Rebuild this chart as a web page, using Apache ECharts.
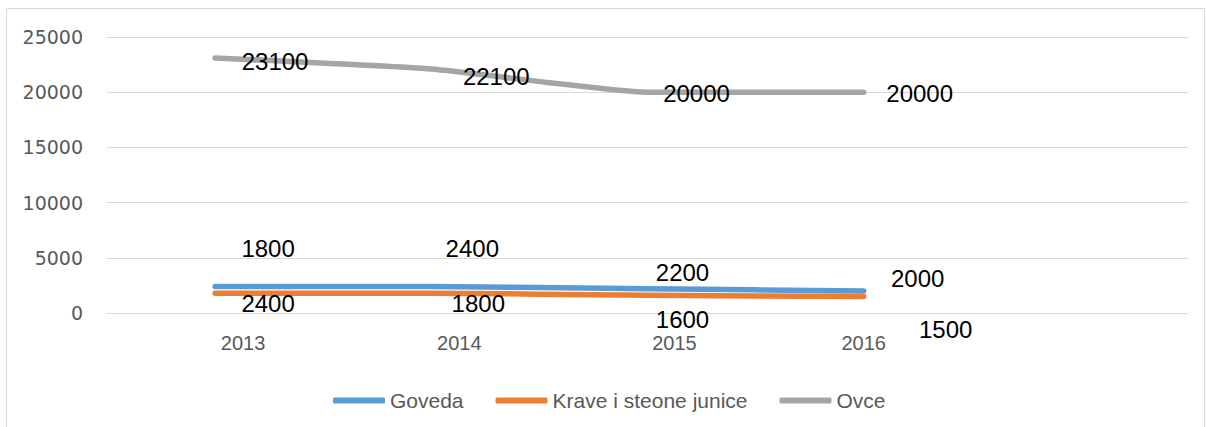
<!DOCTYPE html>
<html>
<head>
<meta charset="utf-8">
<script src="https://cdn.jsdelivr.net/npm/echarts@6/dist/echarts.min.js"></script>
<style>
  html, body { margin: 0; padding: 0; background: #ffffff; }
  #chart { width: 1206px; height: 427px; }
</style>
</head>
<body>
<div id="chart"></div>
<script>
var years = ['2013', '2014', '2015', '2016', ''];
var goveda = [2400, 2400, 2200, 2000];
var krave = [1800, 1800, 1600, 1500];
var ovce = [23100, 22100, 20000, 20000];

// label offsets (px) from each point, as placed in the original
var govedaLabelOffset = [[53, 17], [41, -38], [35, -16], [54, -12]];
var kraveLabelOffset = [[53, -45], [47, 10], [35, 24], [82, 33]];
var ovceLabelOffset = [[60, 4], [65, 7], [49, 1], [56, 1]];
// the year labels sit a little right of their points in the original
var yearLabelShift = [56, 56, 54, 0, 0];

var ink = '#000000';
var muted = '#595959';
var rule = '#D9D9D9';

function withLabels(values, offsets) {
  return values.map(function(v, i) {
    return { value: v, label: { offset: offsets[i] } };
  });
}

function lineSeries(name, values, offsets, color) {
  return {
    name: name,
    type: 'line',
    data: withLabels(values, offsets),
    smooth: 0.15,
    symbol: 'circle',
    symbolSize: 0,
    showSymbol: true,
    lineStyle: { color: color, width: 5.5, cap: 'round', join: 'round' },
    itemStyle: { color: color },
    label: {
      show: true,
      position: 'inside',
      color: ink,
      fontFamily: 'Liberation Sans',
      fontSize: 24
    },
    emphasis: { disabled: true }
  };
}

var chart = echarts.init(document.getElementById('chart'), null, { renderer: 'svg' });
chart.setOption({
  animation: false,
  backgroundColor: '#ffffff',
  graphic: [{
    type: 'rect',
    shape: { x: 6.5, y: 8.5, width: 1198, height: 440 },
    style: { fill: 'none', stroke: rule, lineWidth: 1 },
    silent: true,
    z: -1
  }],
  legend: {
    left: 328,
    top: 385,
    itemWidth: 52,
    itemHeight: 6,
    itemGap: 32,
    icon: 'roundRect',
    textStyle: { color: muted, fontFamily: 'Liberation Sans', fontSize: 21 },
    data: ['Goveda', 'Krave i steone junice', 'Ovce']
  },
  grid: {
    left: 107,
    right: 18,
    top: 37,
    bottom: 114,
    containLabel: false
  },
  xAxis: {
    type: 'category',
    data: years.map(function(y, i) {
      return { value: y, textStyle: { padding: [0, 0, 0, yearLabelShift[i]] } };
    }),
    boundaryGap: true,
    axisLine: { show: true, lineStyle: { color: rule, width: 1 } },
    axisTick: { show: false },
    axisLabel: { color: muted, fontFamily: 'Liberation Sans', fontSize: 20, margin: 20 }
  },
  yAxis: {
    type: 'value',
    min: 0,
    max: 25000,
    interval: 5000,
    axisLine: { show: false },
    axisTick: { show: false },
    axisLabel: {
      color: muted,
      fontFamily: 'DejaVu Sans',
      fontSize: 19,
      margin: 24,
      formatter: function(v) { return String(v); }
    },
    splitLine: { lineStyle: { color: rule, width: 1 } }
  },
  series: [
    lineSeries('Goveda', goveda, govedaLabelOffset, '#5B9BD5'),
    lineSeries('Krave i steone junice', krave, kraveLabelOffset, '#ED7D31'),
    lineSeries('Ovce', ovce, ovceLabelOffset, '#A5A5A5')
  ]
});
window.addEventListener('resize', function() { chart.resize(); });
</script>
</body>
</html>
